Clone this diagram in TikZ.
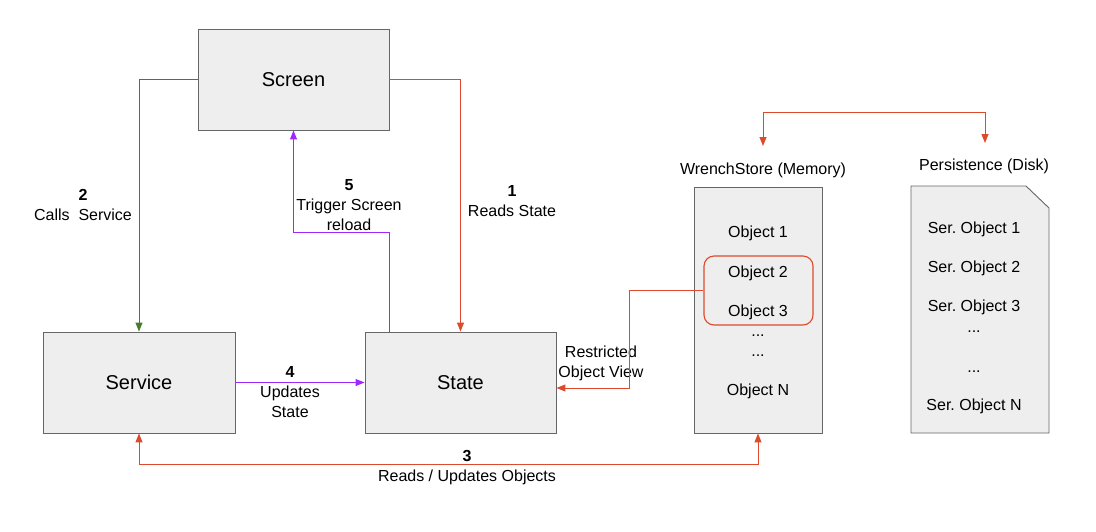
\documentclass[tikz,border=0pt]{standalone}
\usepackage{fontspec}
\setmainfont{Liberation Sans}
\usetikzlibrary{arrows.meta,calc}
\frenchspacing
\definecolor{boxfill}{RGB}{238,238,238}
\definecolor{boxline}{RGB}{102,102,102}
\definecolor{myred}{RGB}{221,74,44}
\definecolor{mygreen}{RGB}{70,125,45}
\definecolor{mypurple}{RGB}{160,40,255}
\tikzset{
  box/.style={draw=boxline, fill=boxfill, line width=0.9pt, inner sep=0pt,
    font=\fontsize{20}{24}\selectfont},
  lbl/.style={inner sep=0pt, align=center, font=\fontsize{16}{20}\selectfont},
  tip/.style={-{Triangle[length=9pt,width=7pt]}},
  twotip/.style={{Triangle[length=9pt,width=7pt]}-{Triangle[length=9pt,width=7pt]}},
  redline/.style={draw=myred, line width=1pt},
  greenline/.style={draw=mygreen, line width=1pt},
  purpleline/.style={draw=mypurple, line width=1pt},
}
\begin{document}
\begin{tikzpicture}[x=1pt,y=-1pt]
\useasboundingbox (0,0) rectangle (1096,531);
% main boxes
\node[box, minimum width=191pt, minimum height=101pt] (screen) at (293.5,79.5) {Screen};
\node[box, minimum width=192pt, minimum height=101pt] (service) at (139,382.5) {Service};
\node[box, minimum width=191pt, minimum height=101pt] (state) at (460.5,382.5) {State};
\node[box, minimum width=128pt, minimum height=246pt] (mem) at (758,310) {};
% document shape
\draw[draw=boxline, fill=boxfill, line width=0.9pt] (911,186) -- (1026,186) -- (1049,208) -- (1049,433) -- (911,433) -- cycle;
% memory contents
\node[lbl] (o1) at (758,233) {Object 1};
\node[lbl] (o2) at (758,273) {Object 2};
\node[lbl] (o3) at (758,312) {Object 3};
\node[lbl] (od1) at (758,336) {...};
\node[lbl] (od2) at (758,356) {...};
\node[lbl] (on) at (758,391) {Object N};
\node[draw=myred, line width=1.1pt, rounded corners=10pt, minimum width=109pt, minimum height=69pt, inner sep=0pt] (hl) at (758.5,290.5) {};
% disk contents
\node[lbl] (s1) at (974,229) {Ser. Object 1};
\node[lbl] (s2) at (974,268) {Ser. Object 2};
\node[lbl] (s3) at (974,307) {Ser. Object 3};
\node[lbl] (sd1) at (974,332) {...};
\node[lbl] (sd2) at (974,372) {...};
\node[lbl] (sn) at (974,406) {Ser. Object N};
% titles
\node[lbl] (memtitle) at (763,170) {WrenchStore (Memory)};
\node[lbl] (disktitle) at (984,166) {Persistence (Disk)};
\coordinate (memtop) at (763,146);
\coordinate (disktop) at (985,143);
% edge labels
\node[lbl] (l2) at (83,205) {\textbf{2}\\Calls\ \ Service};
\node[lbl] (l1) at (512,201) {\textbf{1}\\Reads State};
\node[lbl] (l5) at (349,205) {\textbf{5}\\Trigger Screen\\reload};
\node[lbl] (l4) at (290,392) {\textbf{4}\\Updates\\State};
\node[lbl] (l3) at (467,468) {\textbf{3}\\Reads / Updates Objects};
\node[lbl] (lr) at (601,363) {Restricted\\Object View};
% connectors
\draw[greenline, tip] (screen.west) -| (service.north);
\draw[redline, tip] (screen.east) -| (state.north);
\draw[purpleline, tip] ([xshift=-71.5pt]state.north) -- ++(0,-99) -| (screen.south);
\draw[purpleline, tip] (service.east) -- (state.west);
\draw[redline, twotip] (service.south) -- ++(0,31) -| (mem.south);
\draw[redline, tip] (hl.west) -- ++(-74,0) |- ([yshift=-5.5pt]state.east);
\draw[redline, twotip] (memtop) -- ++(0,-34) -| (disktop);
\end{tikzpicture}
\end{document}
